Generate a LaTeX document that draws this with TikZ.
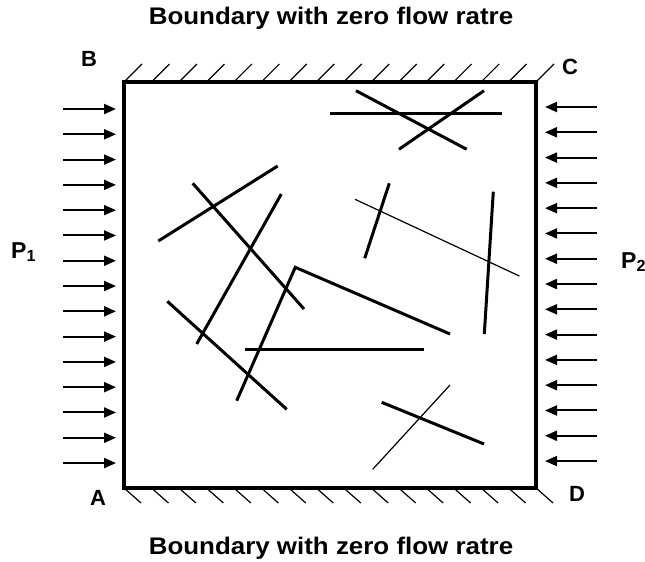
\documentclass[tikz,border=0pt]{standalone}
\usepackage{fontspec}
\setmainfont{Liberation Sans}
\newfontfamily\titlefont[FakeStretch=1.08]{Liberation Sans}
\usetikzlibrary{arrows.meta,calc}
\begin{document}
\begin{tikzpicture}[x=1pt,y=-1pt,
  frac/.style={line width=3pt},
  thinfrac/.style={line width=1.2pt},
  hatch/.style={line width=1.2pt},
  flow/.style={line width=2pt,-{Triangle[length=12pt,width=10pt]}},
  lbl/.style={font=\bfseries\fontsize{22}{22}\selectfont,inner sep=0pt},
  plbl/.style={font=\bfseries\fontsize{23}{23}\selectfont,inner sep=0pt,anchor=west},
  ttl/.style={font=\titlefont\bfseries\fontsize{24}{24}\selectfont,inner sep=0pt}]
\useasboundingbox (0,0) rectangle (645,562);
% domain
\coordinate (A) at (124,488);
\coordinate (B) at (124,82);
\coordinate (C) at (536,82);
\coordinate (D) at (536,488);
% hatching
\foreach \i in {0,...,15}{
  \draw[hatch] ($(B)+(\i*27.47,0)$) -- ++(18,-18);
  \draw[hatch] ($(A)+(\i*27.47,0)$) -- ++(17,15);
}
\draw[line width=4pt] (A) -- (B) -- (C) -- (D) -- cycle;
% flow arrows
\foreach \j in {0,...,14}{
  \draw[flow] (63,109+\j*25.29) -- (116,109+\j*25.29);
  \draw[flow] (597,107+\j*25.29) -- (545,107+\j*25.29);
}
% fractures
\draw[frac] (330,113.3) -- (501.7,113.3);
\draw[frac] (356,90.7) -- (466.7,149.3);
\draw[frac] (484,90.7) -- (399,149.3);
\draw[frac] (158.3,241) -- (277.7,166);
\draw[frac] (192.7,183.3) -- (304,309);
\draw[frac] (281.3,194) -- (196.7,344);
\draw[frac] (236.7,400.7) -- (295.3,267.3) -- (450,334);
\draw[frac] (167.3,301.3) -- (286.7,409.3);
\draw[frac] (245,349.7) -- (424.3,349.7);
\draw[frac] (389.3,183.3) -- (364.7,258.3);
\draw[thinfrac] (355,199.3) -- (519.3,276);
\draw[frac] (493.3,191.7) -- (484.3,334);
\draw[frac] (381.7,402.3) -- (484,444);
\draw[thinfrac] (450,385) -- (372.7,469.3);
% labels
\node[ttl] (top) at (331,18) {Boundary with zero flow ratre};
\node[ttl] (bot) at (331,548) {Boundary with zero flow ratre};
\node[lbl] (lB) at (89,59) {B};
\node[lbl] (lC) at (570,67) {C};
\node[lbl] (lA) at (98,498) {A};
\node[lbl] (lD) at (577,494) {D};
\node[plbl] (p1) at (11,252) {P\textsubscript{1}};
\node[plbl] (p2) at (621,262) {P\textsubscript{2}};
\end{tikzpicture}
\end{document}
